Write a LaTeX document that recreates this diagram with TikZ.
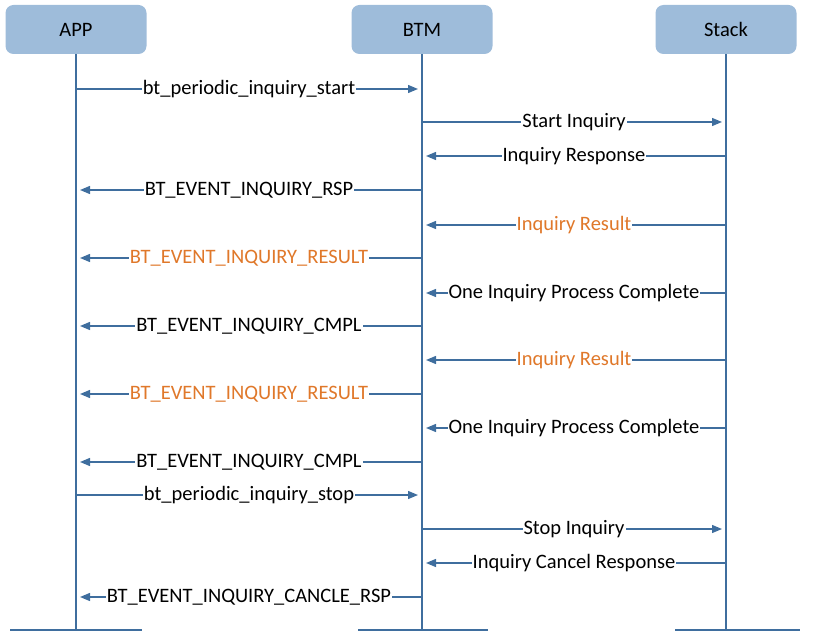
\documentclass[tikz,border=0pt]{standalone}
\usepackage{fontspec}
\setmainfont{Carlito}
\usetikzlibrary{arrows.meta}
\definecolor{ln}{HTML}{3F6E9E}
\definecolor{bx}{HTML}{9EBCDA}
\definecolor{org}{HTML}{E0782A}
\begin{document}
\begin{tikzpicture}[x=1pt,y=-1pt,
  box/.style={fill=bx,rounded corners=8pt,minimum width=141pt,minimum height=49pt,inner sep=0pt,font=\fontsize{20.5}{23}\selectfont},
  life/.style={ln,line width=1.3pt},
  msg/.style={ln,line width=1.3pt,-{Triangle[length=10pt,width=8pt]},shorten >=4pt},
  lbl/.style={fill=white,inner sep=1pt,font=\fontsize{20.5}{23}\selectfont,text=black},
  olbl/.style={lbl,text=org}]
\useasboundingbox (0,0) rectangle (816,644);
\node[box] (app) at (76,29.5) {APP};
\node[box] (btm) at (422,29.5) {BTM};
\node[box] (stk) at (726,29.5) {Stack};
\coordinate (appe) at (76,630);
\coordinate (btme) at (422,630);
\coordinate (stke) at (726,630);
\draw[life] (app.south) -- (appe);
\draw[life] (btm.south) -- (btme);
\draw[life] (stk.south) -- (stke);
\coordinate (b1l) at (10,630); \coordinate (b1r) at (142,630);
\coordinate (b2l) at (358,630); \coordinate (b2r) at (488,630);
\coordinate (b3l) at (675,630); \coordinate (b3r) at (800,630);
\draw[life] (b1l) -- (b1r);
\draw[life] (b2l) -- (b2r);
\draw[life] (b3l) -- (b3r);
\foreach \i/\y in {1/89,2/122,3/156,4/190,5/225,6/258,7/293,8/326,9/360,10/394,11/428,12/462,13/495,14/529,15/563,16/597}{
  \coordinate (A\i) at (76,\y);
  \coordinate (B\i) at (422,\y);
  \coordinate (S\i) at (726,\y);
}
\draw[msg] (A1) -- node[lbl]{bt\_periodic\_inquiry\_start} (B1);
\draw[msg] (B2) -- node[lbl]{Start Inquiry} (S2);
\draw[msg] (S3) -- node[lbl]{Inquiry Response} (B3);
\draw[msg] (B4) -- node[lbl]{BT\_EVENT\_INQUIRY\_RSP} (A4);
\draw[msg] (S5) -- node[olbl]{Inquiry Result} (B5);
\draw[msg] (B6) -- node[olbl]{BT\_EVENT\_INQUIRY\_RESULT} (A6);
\draw[msg] (S7) -- node[lbl]{One Inquiry Process Complete} (B7);
\draw[msg] (B8) -- node[lbl]{BT\_EVENT\_INQUIRY\_CMPL} (A8);
\draw[msg] (S9) -- node[olbl]{Inquiry Result} (B9);
\draw[msg] (B10) -- node[olbl]{BT\_EVENT\_INQUIRY\_RESULT} (A10);
\draw[msg] (S11) -- node[lbl]{One Inquiry Process Complete} (B11);
\draw[msg] (B12) -- node[lbl]{BT\_EVENT\_INQUIRY\_CMPL} (A12);
\draw[msg] (A13) -- node[lbl]{bt\_periodic\_inquiry\_stop} (B13);
\draw[msg] (B14) -- node[lbl]{Stop Inquiry} (S14);
\draw[msg] (S15) -- node[lbl]{Inquiry Cancel Response} (B15);
\draw[msg] (B16) -- node[lbl]{BT\_EVENT\_INQUIRY\_CANCLE\_RSP} (A16);
\end{tikzpicture}
\end{document}
